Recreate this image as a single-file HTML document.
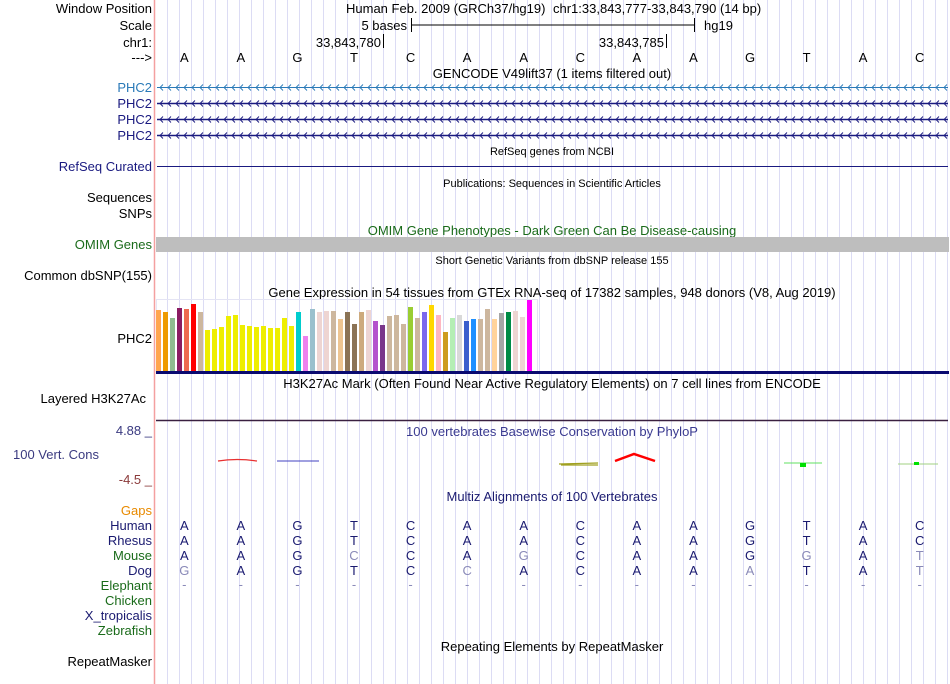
<!DOCTYPE html>
<html><head><meta charset="utf-8"><style>
html,body{margin:0;padding:0;background:#fff;width:950px;height:684px;overflow:hidden}
svg{display:block;font-family:"Liberation Sans",sans-serif}
</style></head><body>
<svg id="c" width="950" height="684" viewBox="0 0 950 684">
<g id="grid"></g>
<line x1="154.5" y1="0" x2="154.5" y2="684" stroke="#f4a0a0" stroke-width="1.5"/>
<g font-size="13" text-anchor="end" fill="#000">
<text x="152" y="13">Window Position</text>
<text x="152" y="30">Scale</text>
<text x="152" y="47">chr1:</text>
<text x="152" y="62">---&gt;</text>
<text x="152" y="92" fill="#2a7ab8">PHC2</text>
<text x="152" y="108" fill="#1a1a80">PHC2</text>
<text x="152" y="124" fill="#1a1a80">PHC2</text>
<text x="152" y="140" fill="#1a1a80">PHC2</text>
<text x="152" y="171" fill="#1a1a80">RefSeq Curated</text>
<text x="152" y="202">Sequences</text>
<text x="152" y="218">SNPs</text>
<text x="152" y="249" fill="#1a6b1a">OMIM Genes</text>
<text x="152" y="280">Common dbSNP(155)</text>
<text x="152" y="343">PHC2</text>
<text x="146" y="403">Layered H3K27Ac</text>
<text x="99" y="459" fill="#3a3a80">100 Vert. Cons</text>
<text x="152" y="435" fill="#3a3a80">4.88 _</text>
<text x="152" y="484" fill="#8b3a3a">-4.5 _</text>
<text x="152" y="515" fill="#e88a00">Gaps</text>
<text x="152" y="530" fill="#1a1a70">Human</text>
<text x="152" y="545" fill="#1a1a70">Rhesus</text>
<text x="152" y="560" fill="#1a6b1a">Mouse</text>
<text x="152" y="575" fill="#1a1a70">Dog</text>
<text x="152" y="590" fill="#1a6b1a">Elephant</text>
<text x="152" y="605" fill="#1a6b1a">Chicken</text>
<text x="152" y="620" fill="#1a1a70">X_tropicalis</text>
<text x="152" y="635" fill="#1a6b1a">Zebrafish</text>
<text x="152" y="666">RepeatMasker</text>
</g>
<g font-size="13" fill="#000">
<text x="346" y="13">Human Feb. 2009 (GRCh37/hg19)</text>
<text x="553" y="13">chr1:33,843,777-33,843,790 (14 bp)</text>
<text x="407" y="30" text-anchor="end">5 bases</text>
<line x1="411" y1="25" x2="694" y2="25" stroke="#000"/>
<line x1="411.5" y1="18" x2="411.5" y2="32" stroke="#000"/>
<line x1="694.5" y1="18" x2="694.5" y2="32" stroke="#000"/>
<text x="704" y="30">hg19</text>
<text x="381" y="47" text-anchor="end">33,843,780</text>
<line x1="383.5" y1="34" x2="383.5" y2="48" stroke="#000"/>
<text x="664" y="47" text-anchor="end">33,843,785</text>
<line x1="666.5" y1="34" x2="666.5" y2="48" stroke="#000"/>
</g>
<g id="bases" font-size="13" text-anchor="middle"></g>
<g font-size="13" text-anchor="middle">
<text x="552" y="78">GENCODE V49lift37 (1 items filtered out)</text>
<text x="552" y="155" font-size="11">RefSeq genes from NCBI</text>
<text x="552" y="187" font-size="11">Publications: Sequences in Scientific Articles</text>
<text x="552" y="235" fill="#1a6b1a">OMIM Gene Phenotypes - Dark Green Can Be Disease-causing</text>
<text x="552" y="264" font-size="11">Short Genetic Variants from dbSNP release 155</text>
<text x="552" y="297">Gene Expression in 54 tissues from GTEx RNA-seq of 17382 samples, 948 donors (V8, Aug 2019)</text>
<text x="552" y="388">H3K27Ac Mark (Often Found Near Active Regulatory Elements) on 7 cell lines from ENCODE</text>
<text x="552" y="436" fill="#3a3a90">100 vertebrates Basewise Conservation by PhyloP</text>
<text x="552" y="501" fill="#1a1a70">Multiz Alignments of 100 Vertebrates</text>
<text x="552" y="651">Repeating Elements by RepeatMasker</text>
</g>
<g id="genes"></g>
<line x1="157" y1="166.5" x2="948" y2="166.5" stroke="#1a1a80"/>
<rect x="156" y="237" width="793" height="15" fill="#bebebe"/>
<rect x="156.5" y="299.5" width="381" height="73" fill="none" stroke="#e4e4f4"/>
<g id="gtex"></g>
<rect x="156" y="371" width="793" height="3" fill="#0a0a70"/>
<line x1="156" y1="420.5" x2="948" y2="420.5" stroke="#3a2040" stroke-width="1.5"/>
<g>
<path d="M218 461 Q237 458 257 461" stroke="#e83030" fill="none" stroke-width="1.2"/>
<line x1="277" y1="461" x2="319" y2="461" stroke="#4040c0" stroke-width="1"/>
<path d="M559 464 L598 463 M561 465 L598 465" stroke="#a0a020" fill="none" stroke-width="1.2"/>
<path d="M615 461 L634 454 L655 461" stroke="#ff0000" fill="none" stroke-width="2.5"/>
<line x1="784" y1="463" x2="822" y2="463" stroke="#60e060"/>
<rect x="800" y="463" width="6" height="4" fill="#00e000"/>
<line x1="898" y1="464" x2="938" y2="464" stroke="#a0d080"/>
<rect x="914" y="462" width="5" height="3" fill="#00e000"/>
</g>
<g id="multiz" font-size="13" text-anchor="middle"></g>
</svg>
<script>
const bases = ["A","A","G","T","C","A","A","C","A","A","G","T","A","C"];
const human = "AAGTCAACAAGTAC".split("");
const rhesus = "AAGTCAACAAGTAC".split("");
const mouse = "AAGCCAGCAAGGAT".split("");
const dog = "GAGTCCACAAATAT".split("");
const gtexValues = [61,59,53,63,62,67,59,41,42,44,55,56,46,45,44,45,43,43,53,45,59,35,62,59,60,60,52,59,47,59,61,50,46,55,56,47,64,53,59,66,56,39,53,56,50,52,52,62,52,58,59,60,54,71];
const gtexColors = ["#FFA54F","#EE9A00","#8FBC8F","#8B1C62","#EE6A50","#FF0000","#CDB79E","#EEEE00","#EEEE00","#EEEE00","#EEEE00","#EEEE00","#EEEE00","#EEEE00","#EEEE00","#EEEE00","#EEEE00","#EEEE00","#EEEE00","#EEEE00","#00CDCD","#EE82EE","#9AC0CD","#EED5D2","#EED5D2","#CDB79E","#EEC591","#8B7355","#8B7355","#CDAA7D","#EED5D2","#B452CD","#7A378B","#CDB79E","#CDB79E","#CDB79E","#9ACD32","#CDB79E","#7B68EE","#FFD700","#FFB6C1","#CD9B1D","#B4EEB4","#D9D9D9","#3A5FCD","#1E90FF","#CDB79E","#CDB79E","#FFD39B","#A6A6A6","#008B45","#EED5D2","#EED5D2","#FF00FF"];
const NS="http://www.w3.org/2000/svg";
function mk(tag,attrs,parent){const e=document.createElementNS(NS,tag);for(const k in attrs)e.setAttribute(k,attrs[k]);parent.appendChild(e);return e;}
const x0=156,bw=792/bases.length;
function bx(i){return x0+bw*(i+0.5);}
// grid
const grid=document.getElementById('grid');
for(let x=167;x<950;x+=12){const l=mk('line',{x1:x+0.5,y1:0,x2:x+0.5,y2:684,stroke:'#dcdcf4'},grid);

}
// bases
const bg=document.getElementById('bases');
bases.forEach((b,i)=>{const t=mk('text',{x:bx(i),y:62},bg);t.textContent=b;

});
// genes
const gg=document.getElementById('genes');
[[87,'#2a7ab8'],[103,'#1a1a80'],[119,'#1a1a80'],[135,'#1a1a80']].forEach(([y,c])=>{
const g=mk('g',{},gg);


mk('line',{x1:157,y1:y+0.5,x2:948,y2:y+0.5,stroke:c,'stroke-width':y==87?1:1.6},g);
let d='';for(let x=159;x<948;x+=8){d+=`M${x+4} ${y-2.5} L${x+1} ${y+0.5} L${x+4} ${y+3.5}`;}
mk('path',{d:d,stroke:c,fill:'none','stroke-width':0.9},g);});
// gtex
const gt=document.getElementById('gtex');
const base=371,step=7.0;
gtexValues.forEach((v,i)=>{const r=mk('rect',{x:156+i*step,y:base-v,width:5,height:v,fill:gtexColors[i]},gt);

});
// multiz
const mz=document.getElementById('multiz');
const rows=[[human,530],[rhesus,545],[mouse,560],[dog,575]];
rows.forEach(([seq,y])=>{seq.forEach((b,i)=>{const diff=b!==human[i];
const t=mk('text',{x:bx(i),y:y,fill:diff?'#8a8ab8':'#1a1a70'},mz);t.textContent=b;

});});
bases.forEach((b,i)=>{const t=mk('text',{x:bx(i),y:589,fill:'#8a8ab8'},mz);t.textContent='-';

});
</script>
</body></html>
